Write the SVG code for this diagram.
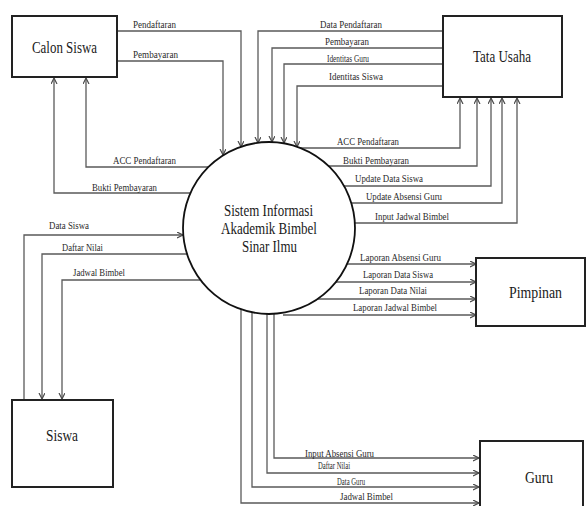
<svg xmlns="http://www.w3.org/2000/svg" width="588" height="506" viewBox="0 0 588 506">
<style>
.box{fill:#fff;stroke:#222;stroke-width:2}
.proc{fill:#fff;stroke:#111;stroke-width:1.8}
.title{font-family:"Liberation Serif","Times New Roman",serif;font-size:16px;fill:#1a1a1a}
.lbl{font-family:"Liberation Serif","Times New Roman",serif;font-size:10px;fill:#2a2a2a}
.flow{fill:none;stroke:#5a5a5a;stroke-width:1.3}
.arr{marker-end:url(#ah)}
</style>
<defs>
<marker id="ah" markerWidth="8" markerHeight="8" refX="6" refY="3" orient="auto" markerUnits="userSpaceOnUse">
<path d="M0,0 L6,3 L0,6" fill="none" stroke="#4a4a4a" stroke-width="1.2"/>
</marker>
</defs>
<rect width="588" height="506" fill="#fff"/>

<g id="connectors">
<!-- Calon Siswa -> System -->
<path class="flow arr" d="M117,31 H241 V147"/>
<path class="flow arr" d="M117,61 H223 V155"/>
<!-- System -> Calon Siswa -->
<path class="flow arr" d="M208,167 H86 V78"/>
<path class="flow arr" d="M190,193 H54 V78"/>
<!-- Tata Usaha -> System -->
<path class="flow arr" d="M443,31 H258 V143"/>
<path class="flow arr" d="M443,48 H272 V142"/>
<path class="flow arr" d="M443,64 H284 V143"/>
<path class="flow arr" d="M443,86 H297 V147"/>
<!-- System -> Tata Usaha -->
<path class="flow arr" d="M300,148 H460 V98"/>
<path class="flow arr" d="M329,166 H477 V98"/>
<path class="flow arr" d="M344,186 H491 V98"/>
<path class="flow arr" d="M351,203 H502 V98"/>
<path class="flow arr" d="M355,223 H517 V98"/>
<!-- Siswa <-> System -->
<path class="flow arr" d="M24,400 V235 H183"/>
<path class="flow arr" d="M187,254 H42 V399"/>
<path class="flow arr" d="M200,280 H62 V399"/>
<!-- System -> Pimpinan -->
<path class="flow arr" d="M347,264 H476"/>
<path class="flow arr" d="M336,282 H476"/>
<path class="flow arr" d="M317,299 H476"/>
<path class="flow arr" d="M283,315 H476"/>
<!-- System -> Guru -->
<path class="flow arr" d="M274,314 V458 H479"/>
<path class="flow arr" d="M267,314 V473 H479"/>
<path class="flow arr" d="M252,312 V487 H479"/>
<path class="flow arr" d="M241,309 V503 H479"/>

<g id="flow-labels">
<text class="lbl" x="133" y="28" textLength="43" lengthAdjust="spacingAndGlyphs">Pendaftaran</text>
<text class="lbl" x="133" y="58" textLength="45" lengthAdjust="spacingAndGlyphs">Pembayaran</text>
<text class="lbl" x="113" y="164" textLength="63" lengthAdjust="spacingAndGlyphs">ACC Pendaftaran</text>
<text class="lbl" x="92" y="191" textLength="65" lengthAdjust="spacingAndGlyphs">Bukti Pembayaran</text>
<text class="lbl" x="320" y="28" textLength="62" lengthAdjust="spacingAndGlyphs">Data Pendaftaran</text>
<text class="lbl" x="325" y="45" textLength="44" lengthAdjust="spacingAndGlyphs">Pembayaran</text>
<text class="lbl" x="327" y="62" textLength="42" lengthAdjust="spacingAndGlyphs">Identitas Guru</text>
<text class="lbl" x="329" y="80" textLength="54" lengthAdjust="spacingAndGlyphs">Identitas Siswa</text>
<text class="lbl" x="337" y="145" textLength="62" lengthAdjust="spacingAndGlyphs">ACC Pendaftaran</text>
<text class="lbl" x="343" y="164" textLength="66" lengthAdjust="spacingAndGlyphs">Bukti Pembayaran</text>
<text class="lbl" x="355" y="182" textLength="68" lengthAdjust="spacingAndGlyphs">Update Data Siswa</text>
<text class="lbl" x="366" y="200" textLength="76" lengthAdjust="spacingAndGlyphs">Update Absensi Guru</text>
<text class="lbl" x="375" y="220" textLength="74" lengthAdjust="spacingAndGlyphs">Input Jadwal Bimbel</text>
<text class="lbl" x="49" y="229" textLength="40" lengthAdjust="spacingAndGlyphs">Data Siswa</text>
<text class="lbl" x="62" y="251" textLength="41" lengthAdjust="spacingAndGlyphs">Daftar Nilai</text>
<text class="lbl" x="73" y="276" textLength="52" lengthAdjust="spacingAndGlyphs">Jadwal Bimbel</text>
<text class="lbl" x="360" y="261" textLength="81" lengthAdjust="spacingAndGlyphs">Laporan Absensi Guru</text>
<text class="lbl" x="363" y="278" textLength="70" lengthAdjust="spacingAndGlyphs">Laporan Data Siswa</text>
<text class="lbl" x="359" y="294" textLength="68" lengthAdjust="spacingAndGlyphs">Laporan Data Nilai</text>
<text class="lbl" x="353" y="311" textLength="84" lengthAdjust="spacingAndGlyphs">Laporan Jadwal Bimbel</text>
<text class="lbl" x="305" y="457" textLength="69" lengthAdjust="spacingAndGlyphs">Input Absensi Guru</text>
<text class="lbl" x="318" y="469" textLength="32" lengthAdjust="spacingAndGlyphs">Daftar Nilai</text>
<text class="lbl" x="337" y="485" textLength="28" lengthAdjust="spacingAndGlyphs">Data Guru</text>
<text class="lbl" x="340" y="500" textLength="53" lengthAdjust="spacingAndGlyphs">Jadwal Bimbel</text>
</g>
</g>

<g id="calon-siswa">
<rect class="box" x="12" y="16" width="105" height="61"/>
<text class="title" x="32" y="53" font-size="17" textLength="65" lengthAdjust="spacingAndGlyphs">Calon Siswa</text>
</g>

<g id="tata-usaha">
<rect class="box" x="443" y="16" width="119" height="81"/>
<text class="title" x="473" y="62" textLength="58" lengthAdjust="spacingAndGlyphs">Tata Usaha</text>
</g>

<g id="sistem">
<circle class="proc" cx="269" cy="228" r="86"/>
<text class="title" x="224" y="216" font-size="15" textLength="89" lengthAdjust="spacingAndGlyphs">Sistem Informasi</text>
<text class="title" x="221" y="234" font-size="15" textLength="96" lengthAdjust="spacingAndGlyphs">Akademik Bimbel</text>
<text class="title" x="242" y="252" font-size="15" textLength="55" lengthAdjust="spacingAndGlyphs">Sinar Ilmu</text>
</g>

<g id="pimpinan">
<rect class="box" x="476" y="258" width="109" height="68"/>
<text class="title" x="509" y="298" textLength="53" lengthAdjust="spacingAndGlyphs">Pimpinan</text>
</g>

<g id="siswa">
<rect class="box" x="12" y="400" width="101" height="87"/>
<text class="title" x="46" y="441" textLength="32" lengthAdjust="spacingAndGlyphs">Siswa</text>
</g>

<g id="guru">
<rect class="box" x="480" y="441" width="103" height="70"/>
<text class="title" x="525" y="483" textLength="28" lengthAdjust="spacingAndGlyphs">Guru</text>
</g>
</svg>
